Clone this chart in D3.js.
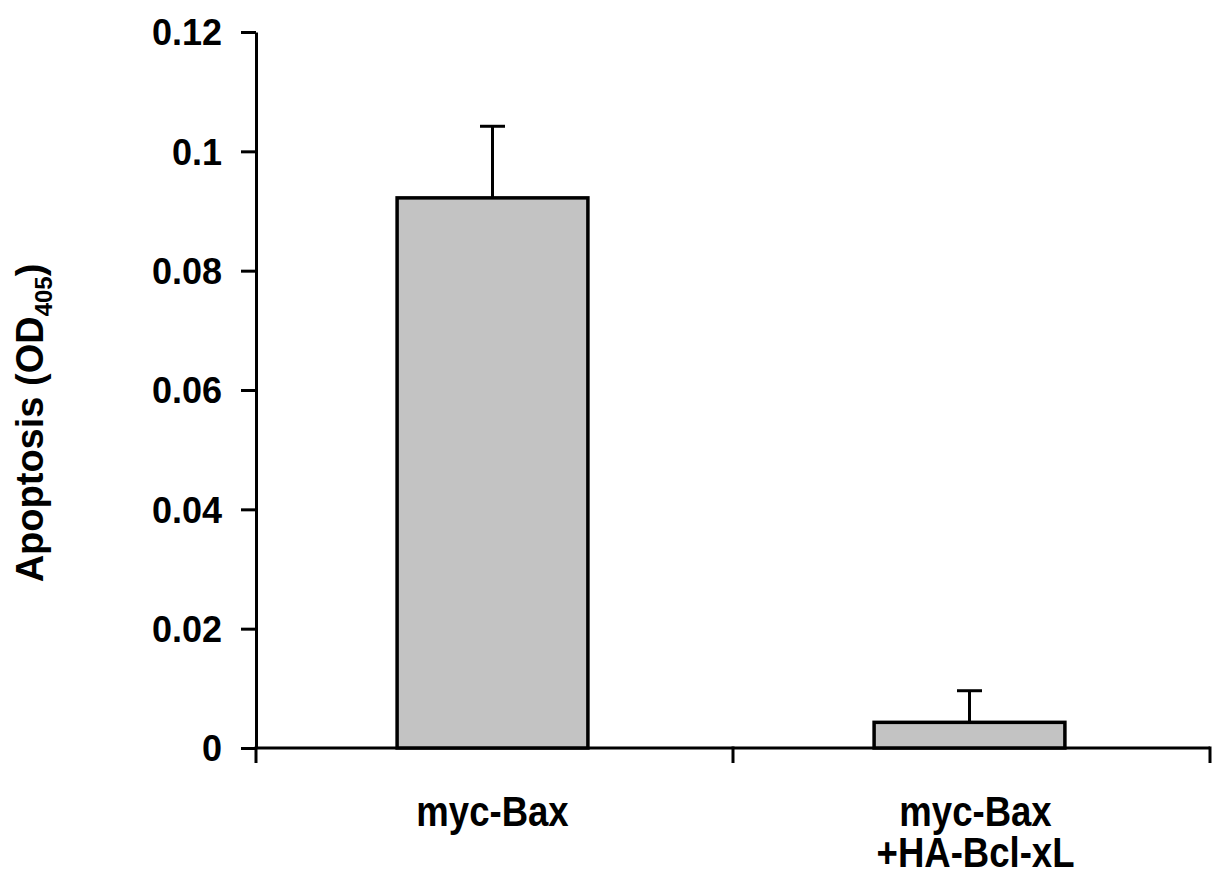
<!DOCTYPE html>
<html>
<head>
<meta charset="utf-8">
<script src="https://cdn.jsdelivr.net/npm/d3@7"></script>
<style>
  body { margin: 0; background: #fff; }
  svg { display: block; }
  text { font-family: "Liberation Sans", Arial, sans-serif; font-weight: bold; fill: #000; }
</style>
</head>
<body>
<svg id="chart" width="1216" height="876"></svg>
<script>
// Data
var categories = ['myc-Bax', 'myc-Bax\n+HA-Bcl-xL'];
var means = [0.0922, 0.0043];
var errors = [0.0120, 0.0053];
var yTicks = [0, 0.02, 0.04, 0.06, 0.08, 0.1, 0.12];
var yTickLabels = ['0', '0.02', '0.04', '0.06', '0.08', '0.1', '0.12'];

var svg = d3.select('#chart');

var padding = {t: 32, r: 6, b: 128, l: 256};
var svgWidth = +svg.attr('width');
var svgHeight = +svg.attr('height');
var chartWidth = svgWidth - padding.l - padding.r;
var chartHeight = svgHeight - padding.t - padding.b;

var chartG = svg.append('g')
    .attr('transform', 'translate(' + [padding.l, padding.t] + ')');

var yScale = d3.scaleLinear()
    .domain([0, 0.12])
    .range([chartHeight, 0]);

var xScale = d3.scaleBand()
    .domain(categories)
    .range([0, chartWidth])
    .padding(0);

var barWidth = xScale.bandwidth() * 0.4;

// Y axis
var yAxis = d3.axisLeft(yScale)
    .tickValues(yTicks)
    .tickFormat(function(d, i) { return yTickLabels[i]; })
    .tickSize(15)
    .tickSizeOuter(0)
    .tickPadding(19);

var yG = chartG.append('g').call(yAxis);
yG.select('.domain').attr('stroke-width', 3);
yG.selectAll('.tick line').attr('stroke-width', 3);
yG.selectAll('.tick text')
    .style('font-size', '36px')
    .attr('dy', '0.36em');

// X axis line with ticks at band boundaries
var bounds = categories.map(function(c) { return xScale(c); }).concat([chartWidth]);
var xG = chartG.append('g')
    .attr('transform', 'translate(0,' + chartHeight + ')');
xG.append('line')
    .attr('x1', 0).attr('x2', chartWidth)
    .attr('y1', 0).attr('y2', 0)
    .attr('stroke', '#000').attr('stroke-width', 3);
xG.selectAll('.xtick')
    .data(bounds)
    .enter().append('line')
    .attr('class', 'xtick')
    .attr('x1', function(d) { return d; })
    .attr('x2', function(d) { return d; })
    .attr('y1', -1.5).attr('y2', 15)
    .attr('stroke', '#000').attr('stroke-width', 3);

// Category labels
var labelShift = [-2, 4];
var labels = xG.selectAll('.label')
    .data(categories)
    .enter().append('text')
    .attr('class', 'label')
    .attr('text-anchor', 'middle')
    .attr('transform', function(d, i) {
        return 'translate(' + (xScale(d) + xScale.bandwidth() / 2 + labelShift[i]) + ',78) scale(0.85,1)';
    })
    .style('font-size', '43px');
labels.each(function(d) {
    var lines = d.split('\n');
    var t = d3.select(this);
    lines.forEach(function(line, i) {
        t.append('tspan')
            .attr('x', 0)
            .attr('y', i * 41)
            .text(line);
    });
});

// Bars
chartG.selectAll('.bar')
    .data(means)
    .enter().append('rect')
    .attr('class', 'bar')
    .attr('x', function(d, i) { return xScale(categories[i]) + xScale.bandwidth() / 2 - barWidth / 2 - 2; })
    .attr('y', function(d) { return yScale(d); })
    .attr('width', barWidth)
    .attr('height', function(d) { return chartHeight - yScale(d); })
    .attr('fill', '#c3c3c3')
    .attr('stroke', '#000')
    .attr('stroke-width', 3.5);

// Error bars (upper only)
var errG = chartG.selectAll('.err')
    .data(means)
    .enter().append('g')
    .attr('class', 'err');
errG.append('line')
    .attr('x1', function(d, i) { return xScale(categories[i]) + xScale.bandwidth() / 2 - 2; })
    .attr('x2', function(d, i) { return xScale(categories[i]) + xScale.bandwidth() / 2 - 2; })
    .attr('y1', function(d) { return yScale(d); })
    .attr('y2', function(d, i) { return yScale(d + errors[i]); })
    .attr('stroke', '#000').attr('stroke-width', 3);
errG.append('line')
    .attr('x1', function(d, i) { return xScale(categories[i]) + xScale.bandwidth() / 2 - 2 - 12.5; })
    .attr('x2', function(d, i) { return xScale(categories[i]) + xScale.bandwidth() / 2 - 2 + 12.5; })
    .attr('y1', function(d, i) { return yScale(d + errors[i]); })
    .attr('y2', function(d, i) { return yScale(d + errors[i]); })
    .attr('stroke', '#000').attr('stroke-width', 3);

// Y axis title
var yTitle = svg.append('text')
    .attr('text-anchor', 'middle')
    .attr('transform', 'translate(43,423) rotate(-90)')
    .style('font-size', '38px');
yTitle.append('tspan').text('Apoptosis (OD');
yTitle.append('tspan').text('405').style('font-size', '24px').attr('dy', 9);
yTitle.append('tspan').text(')').attr('dy', -9);

// Partial panel letter cut off at the bottom edge
svg.append('text')
    .attr('x', 214)
    .attr('y', 896)
    .style('font-size', '30px')
    .text('B');
</script>
</body>
</html>
